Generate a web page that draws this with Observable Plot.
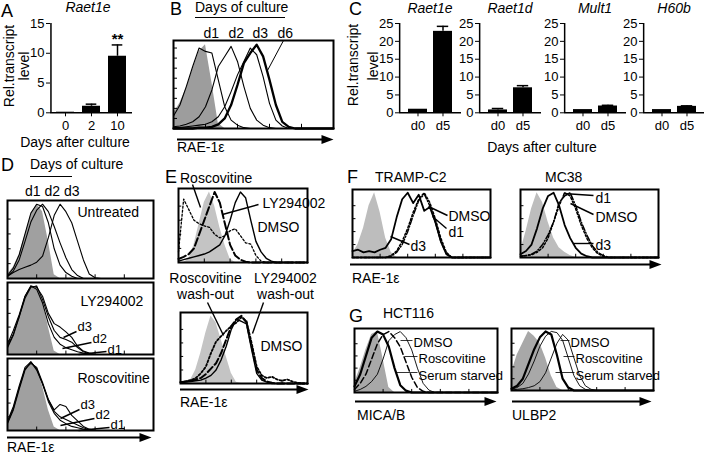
<!DOCTYPE html>
<html><head><meta charset="utf-8">
<script src="https://cdn.jsdelivr.net/npm/d3@7"></script>
<script src="https://cdn.jsdelivr.net/npm/@observablehq/plot@0.6"></script>
<style>
body{margin:0;background:#fff;}
#root{position:relative;width:704px;height:458px;overflow:hidden;font-family:"Liberation Sans",Arial,Helvetica,sans-serif;color:#000;background:#fff;}
.t{position:absolute;white-space:pre;line-height:1;}
.hr{position:absolute;border-top:1.5px solid #000;height:0;}
</style></head><body><div id="root"></div>
<script>
// ---------------- DATA ----------------
// Panel A
const aCats = ["0", "2", "10"];
const aVals = [0.1, 1.1, 9.5];
const aErrs = [0, 0.35, 1.9];
// Panel C
const cCats = ["d0", "d5"];
const cGenes = ["Raet1e", "Raet1d", "Mult1", "H60b"];
const raet1eVals = [1.0, 22.8], raet1eErrs = [0, 1.4];
const raet1dVals = [0.8, 7.0], raet1dErrs = [0.4, 0.6];
const mult1Vals = [0.9, 1.9], mult1Errs = [0, 0.2];
const h60bVals = [0.9, 1.8], h60bErrs = [0, 0.15];
const cTicks = [0, 5, 10, 15, 20, 25];
const aTicks = [0, 5, 10, 15];

// Histogram sample grid (RAE-1 / ligand intensity, % of axis)
const grid = [0,4,8,12,16,20,24,28,32,36,40,44,48,52,56,60,64,68,72,76,80,84,88,92,96,100];
// Panel B (days of culture)
const bGray = [18,30,48,70,92,100,55,6,0];
const bD1 = [15,28,50,74,96,92,90,58,26,10,4,1,0];
const bD2 = [2,3,5,8,14,26,46,74,86,98,80,50,24,10,4,1,0];
const bD3 = [1,1,2,3,4,5,8,14,26,44,64,80,96,88,62,30,10,3,0];
const bD6 = [0,0,0,0,1,1,2,5,12,28,52,78,90,100,86,58,28,8,2,0];
// Panel D
const dGrayU = [5,15,32,58,85,100,90,50,5,0];
const dU1 = [4,14,32,60,88,100,97,75,40,18,8,3,0];
const dU2 = [3,10,25,50,76,92,100,90,70,48,28,12,4,0];
const dU3 = [3,8,12,15,18,22,30,55,85,100,90,75,50,25,6,1,0];
const dGrayL = [8,25,50,80,97,100,80,40,5,0];
const dL1 = [10,28,55,85,100,95,75,45,25,15,10,7,4,2,1,0];
const dL2 = [12,30,55,82,98,100,80,55,35,25,22,18,10,4,1,0];
const dL3 = [15,35,58,85,100,98,85,60,45,40,33,25,12,5,2,0];
const dGrayR = [8,28,55,85,100,92,65,30,5,0];
const dR1 = [10,30,60,88,100,90,68,42,25,15,10,6,4,2,1,0];
const dR2 = [12,32,62,90,98,92,70,45,28,20,16,12,8,4,1,0];
const dR3 = [14,35,65,92,100,88,68,45,30,38,35,22,14,6,2,0];
// Panel E
const eGray1 = [0,0,5,25,55,85,100,80,50,25,5,0];
const eRos = [15,90,75,60,55,52,50,40,35,38,45,48,38,28,26,10,2,0];
const eLY = [5,8,12,20,40,60,80,100,85,55,25,10,4,1,0];
const eDMSO = [2,4,6,8,10,12,15,20,25,38,60,85,100,92,60,30,15,6,2,0];
const eGray2 = [0,0,5,20,45,75,100,90,65,40,15,2,0];
const eRosW = [2,3,5,8,15,25,45,62,70,78,85,90,98,92,60,25,12,8,10,6,4,6,3,1,0];
const eLYW = [2,3,4,6,8,14,22,30,45,65,85,95,100,90,55,20,8,3,1,0];
const eDMSOW = [1,2,3,4,5,8,12,20,35,55,80,95,92,88,50,15,5,2,0];
// Panel F
const fGray1 = [5,20,45,80,100,70,30,8,0];
const fT3 = [10,12,8,10,8,12,15,28,62,90,100,84,97,72,78,55,25,5,0];
const fTDMSO = [0,0,0,0,0,0,0,3,10,25,45,70,90,100,85,60,30,8,0];
const fT1 = [0,0,0,0,0,0,0,2,8,20,40,65,88,98,80,55,25,6,0];
const fGray2 = [10,40,75,100,85,55,30,15,8,3,0];
const fM3 = [5,10,20,45,75,95,100,80,50,30,15,6,2,0];
const fMDMSO = [2,3,4,8,15,30,55,80,100,95,75,50,30,15,6,2,0];
const fM1 = [2,3,5,10,20,35,55,85,95,100,80,55,35,18,8,3,0];
// Panel G
const gGray1 = [15,40,70,95,100,55,8,0];
const gMicaDMSO = [10,30,60,90,100,95,75,40,12,3,0];
const gMicaRos = [5,15,30,55,80,95,100,90,75,50,25,8,2,0];
const gMicaSerum = [2,5,10,18,30,55,85,95,100,90,70,40,15,4,0];
const gGray2 = [30,60,80,100,92,80,55,25,5,0];
const gUlbpDMSO = [3,8,20,45,70,90,100,95,60,20,5,0];
const gUlbpRos = [2,5,12,28,50,75,92,100,98,85,55,25,8,2,0];
const gUlbpSerum = [1,2,3,5,8,15,30,55,80,95,85,55,25,8,2,0];

// ---------------- HELPERS ----------------
const FONT = '"Liberation Sans", Arial, Helvetica, sans-serif';
const root = document.getElementById("root");
const series = vals => grid.map((x, i) => ({x, y: vals[i] ?? 0}));

function place(node, left, top) {
  node.style.position = "absolute";
  node.style.left = left + "px";
  node.style.top = top + "px";
  root.append(node);
}
function txt(s, x, base, size, o = {}) {
  const d = document.createElement("div");
  d.className = "t";
  d.textContent = s;
  d.style.fontSize = size + "px";
  d.style.top = (base - 0.85 * size) + "px";
  d.style.left = x + "px";
  if (o.middle) d.style.transform = "translateX(-50%)";
  if (o.italic) d.style.fontStyle = "italic";
  root.append(d);
}
// one rotated line of text, centred at (cx, cy)
function vline(s, cx, cy, size) {
  const d = document.createElement("div");
  d.className = "t";
  d.textContent = s;
  d.style.fontSize = size + "px";
  d.style.width = "130px";
  d.style.height = size + "px";
  d.style.textAlign = "center";
  d.style.left = (cx - 65) + "px";
  d.style.top = (cy - size / 2) + "px";
  d.style.transform = "rotate(-90deg)";
  d.style.transformOrigin = "50% 50%";
  root.append(d);
}
function hr(x1, x2, y) {
  const d = document.createElement("div");
  d.className = "hr";
  d.style.left = x1 + "px"; d.style.width = (x2 - x1) + "px"; d.style.top = y + "px";
  root.append(d);
}
const baseStyle = {fontFamily: FONT, fontSize: "13px", overflow: "visible", background: "transparent", color: "black"};

function barChart({cats, vals, errs, ticks, yMax, axisX, frameW, pi, po, star}) {
  const y0 = 112, yTop = 22.7, frameH = y0 - yTop;
  const ml = 34, mt = 14, mb = 30, mr = 6;
  const data = cats.map((c, i) => ({c, v: vals[i], e: vals[i] + errs[i]}));
  const withErr = data.filter(d => d.e > d.v);
  const step = frameW / (cats.length - pi + 2 * po);
  const bw = step * (1 - pi);
  const firstOff = po * step + bw / 2;
  const marks = [
    Plot.ruleX(withErr, {x: "c", y1: "v", y2: "e", stroke: "black", strokeWidth: 1.5}),
    Plot.tickY(withErr, {x: "c", y: "e", stroke: "black", strokeWidth: 1.5, insetLeft: bw * 0.2, insetRight: bw * 0.2}),
    Plot.barY(data, {x: "c", y: "v", fill: "black"}),
    Plot.axisY({ticks, tickSize: 4, tickPadding: 2, label: null}),
    Plot.axisX({tickSize: 4, tickPadding: 4, label: null}),
    Plot.ruleY([0], {stroke: "black", strokeWidth: 1.5}),
    Plot.ruleX([cats[0]], {dx: -firstOff, stroke: "black", strokeWidth: 1.5})
  ];
  if (star) marks.push(Plot.text(data.slice(-1), {x: "c", y: "e", text: () => star, dy: -6, fontSize: 15, fontWeight: "bold"}));
  const svg = Plot.plot({
    width: ml + frameW + mr, height: mt + frameH + mb,
    marginLeft: ml, marginRight: mr, marginTop: mt, marginBottom: mb,
    style: baseStyle,
    x: {domain: cats, paddingInner: pi, paddingOuter: po},
    y: {domain: [0, yMax]},
    marks
  });
  place(svg, axisX - ml, yTop - mt);
}

const rightTri = {draw(ctx, size) {
  const r = Math.sqrt(size / Math.PI);
  ctx.moveTo(r * 1.4, 0); ctx.lineTo(-r, -r * 0.9); ctx.lineTo(-r, r * 0.9); ctx.closePath();
}};

function hist(p) {
  const X = px => (px - p.left) / p.w * 100;
  const Y = py => (p.top + p.h - py) / p.h * 105;
  const marks = [Plot.areaY(series(p.gray), {x: "x", y: "y", fill: p.fill, curve: "linear"})];
  for (const c of p.curves)
    marks.push(Plot.lineY(series(c.v), {x: "x", y: "y", stroke: "black", strokeWidth: c.sw, strokeDasharray: c.dash || null, curve: "linear"}));
  marks.push(Plot.frame({stroke: "black", strokeWidth: 2}));
  marks.push(Plot.ruleY(p.lt || [20, 40, 60, 80], {x1: 0, x2: 2.5, stroke: "black"}));
  marks.push(Plot.ruleX([20, 40, 60, 80], {y1: 0, y2: 5, stroke: "black"}));
  if (p.arrow) {
    const a = p.arrow;
    marks.push(Plot.ruleY([Y(a.y)], {x1: X(a.x1), x2: X(a.x2 - 6), stroke: "black", strokeWidth: 2}));
    marks.push(Plot.dot([0], {x: X(a.x2 - 7), y: Y(a.y), symbol: rightTri, r: 5, fill: "black", stroke: "none"}));
  }
  if (p.leaders) marks.push(Plot.link(p.leaders, {x1: d => X(d[0]), y1: d => Y(d[1]), x2: d => X(d[2]), y2: d => Y(d[3]), stroke: "black", strokeWidth: p.lw || 1.4}));
  const labs = p.labels || [];
  const fs = p.fs || 14;
  const groups = [
    [labs.filter(d => !d[3]), "start", fs],
    [labs.filter(d => d[3] === "middle"), "middle", fs],
    [labs.filter(d => d[3] === "small"), "start", 13]
  ];
  for (const [g, anchor, size] of groups)
    if (g.length) marks.push(Plot.text(g, {x: d => X(d[1]), y: d => Y(d[2]), text: d => d[0], textAnchor: anchor, lineAnchor: "middle", fontSize: size, fill: "black"}));
  const svg = Plot.plot({
    width: p.w, height: p.h, margin: 0, style: baseStyle,
    x: {domain: [0, 100], axis: null}, y: {domain: [0, 105], axis: null},
    marks
  });
  place(svg, p.left, p.top);
}

// ---------------- PANEL A ----------------
barChart({cats: aCats, vals: aVals, errs: aErrs, ticks: aTicks, yMax: 15, axisX: 50, frameW: 82, pi: 0.3, po: 0.2, star: "**"});
txt("A", 1, 17, 18);
txt("Raet1e", 88, 12, 14, {middle: true, italic: true});
vline("Rel.transcript", 9, 66, 14);
vline("level", 24, 66, 14);
txt("Days after culture", 75, 147, 14, {middle: true});

// ---------------- PANEL B ----------------
txt("B", 170, 15, 18);
txt("Days of culture", 195, 12, 14);
hr(195, 285, 17);
hist({left: 173, top: 40, w: 160, h: 88, fill: "#9d9d9d", gray: bGray,
  curves: [{v: bD1, sw: 1.1}, {v: bD2, sw: 1.1}, {v: bD3, sw: 1.1}, {v: bD6, sw: 2.3}],
  lt: [12, 24, 36, 48, 60, 72, 84, 96],
  arrow: {x1: 177, x2: 333, y: 139},
  labels: [["d1", 203, 33], ["d2", 228, 33], ["d3", 252, 33], ["d6", 277, 33]],
  leaders: [[283, 40, 267, 70]], lw: 1});
txt("RAE-1ε", 177, 152, 14);

// ---------------- PANEL C ----------------
txt("C", 349, 15, 18);
const cSets = [[raet1eVals, raet1eErrs, 399], [raet1dVals, raet1dErrs, 479], [mult1Vals, mult1Errs, 564], [h60bVals, h60bErrs, 643]];
cSets.forEach(([v, e, ax], i) => {
  barChart({cats: cCats, vals: v, errs: e, ticks: cTicks, yMax: 25, axisX: ax, frameW: 62, pi: 0.25, po: 0.35});
  txt(cGenes[i], ax + 31, 13, 14, {middle: true, italic: true});
});
vline("Rel.transcript", 353, 65, 14);
vline("level", 373, 66, 14);
txt("Days after culture", 542, 152, 14, {middle: true});

// ---------------- PANEL D ----------------
txt("D", 1, 171, 18);
txt("Days of culture", 30, 169, 14);
hr(30, 72, 176);
txt("d1 d2 d3", 25, 196, 14);
hist({left: 7, top: 200, w: 146, h: 78, fill: "#a0a0a0", gray: dGrayU,
  curves: [{v: dU1, sw: 1.1}, {v: dU2, sw: 1.1}, {v: dU3, sw: 1.1}],
  labels: [["Untreated", 77, 212]]});
hist({left: 7, top: 282, w: 146, h: 72, fill: "#a0a0a0", gray: dGrayL,
  curves: [{v: dL1, sw: 1.1}, {v: dL2, sw: 1.1}, {v: dL3, sw: 1.1}],
  labels: [["LY294002", 80, 301], ["d3", 77, 326, "small"], ["d2", 92, 338, "small"], ["d1", 107, 349, "small"]],
  leaders: [[76, 331, 63, 337], [91, 342, 62, 348], [106, 351, 78, 354]]});
hist({left: 7, top: 358, w: 146, h: 72, fill: "#a0a0a0", gray: dGrayR,
  curves: [{v: dR1, sw: 1.1}, {v: dR2, sw: 1.1}, {v: dR3, sw: 1.1}],
  labels: [["Roscovitine", 77, 378], ["d3", 80, 404, "small"], ["d2", 95, 414, "small"], ["d1", 110, 424, "small"]],
  leaders: [[79, 409, 60, 418], [94, 418, 60, 425], [109, 427, 78, 430]],
  arrow: {x1: 7, x2: 151, y: 437}});
txt("RAE-1ε", 7, 452, 14);

// ---------------- PANEL E ----------------
txt("E", 165, 183, 18);
txt("Roscovitine", 180, 183, 14);
hist({left: 178, top: 188, w: 129, h: 74, fill: "#c4c4c4", gray: eGray1,
  curves: [{v: eRos, sw: 1.3, dash: "2,2"}, {v: eLY, sw: 2, dash: "8,3"}, {v: eDMSO, sw: 1.4}],
  labels: [["LY294002", 262, 203], ["DMSO", 257, 227]],
  leaders: [[192, 184, 200, 207], [258, 204, 222, 214]]});
hist({left: 180, top: 312, w: 127, h: 71, fill: "#c4c4c4", gray: eGray2,
  curves: [{v: eRosW, sw: 1.8, dash: "2,2"}, {v: eLYW, sw: 2, dash: "7,3"}, {v: eDMSOW, sw: 1.4}],
  labels: [["Roscovitine", 205, 278.5, "middle"], ["wash-out", 205, 294, "middle"],
           ["LY294002", 285, 278.5, "middle"], ["wash-out", 285, 294, "middle"], ["DMSO", 260, 346]],
  leaders: [[207, 302, 223, 335], [263, 302, 252, 333]],
  arrow: {x1: 180, x2: 308, y: 389}});
txt("RAE-1ε", 180, 407, 14);

// ---------------- PANEL F ----------------
txt("F", 347, 183, 18);
txt("TRAMP-C2", 375, 182, 14);
txt("MC38", 545, 182, 14);
hist({left: 352, top: 189, w: 138, h: 68, fill: "#bdbdbd", gray: fGray1,
  curves: [{v: fTDMSO, sw: 1.5, dash: "2,2"}, {v: fT1, sw: 1.5, dash: "6,2,1,2"}, {v: fT3, sw: 1.8}],
  labels: [["DMSO", 448, 216], ["d1", 448, 232], ["d3", 410, 246]],
  leaders: [[447, 215, 428, 206], [446, 228, 432, 216], [409, 244, 390, 236]],
  arrow: {x1: 350, x2: 661, y: 264}});
hist({left: 520, top: 189, w: 138, h: 68, fill: "#bdbdbd", gray: fGray2,
  curves: [{v: fMDMSO, sw: 1.5, dash: "2,2"}, {v: fM1, sw: 1.5, dash: "6,2,1,2"}, {v: fM3, sw: 1.8}],
  labels: [["d1", 595, 198], ["DMSO", 595, 217], ["d3", 595, 245]],
  leaders: [[593, 195, 563, 193], [593, 214, 570, 203], [593, 243, 573, 243]]});
txt("RAE-1ε", 352, 283, 14);

// ---------------- PANEL G ----------------
txt("G", 349, 322, 18);
txt("HCT116", 383, 318, 14);
hist({left: 354, top: 328, w: 143, h: 64, fill: "#a8a8a8", gray: gGray1,
  curves: [{v: gMicaDMSO, sw: 2.2}, {v: gMicaRos, sw: 1.5, dash: "6,3"}, {v: gMicaSerum, sw: 0.9}],
  labels: [["DMSO", 413, 342], ["Roscovitine", 418, 358], ["Serum starved", 418, 375]],
  leaders: [[400, 340, 412, 340], [404, 356, 417, 356], [396, 372, 417, 372]], lw: 0.8, fs: 13,
  arrow: {x1: 355, x2: 496, y: 401}});
hist({left: 511, top: 328, w: 142, h: 62, fill: "#a8a8a8", gray: gGray2,
  curves: [{v: gUlbpDMSO, sw: 2.2}, {v: gUlbpRos, sw: 0.9}, {v: gUlbpSerum, sw: 0.9}],
  labels: [["DMSO", 570, 342], ["Roscovitine", 575, 358], ["Serum starved", 575, 375]],
  leaders: [[560, 340, 569, 340], [563, 356, 574, 356], [555, 372, 574, 372]], lw: 0.8, fs: 13,
  arrow: {x1: 512, x2: 651, y: 401}});
txt("MICA/B", 357, 420, 14);
txt("ULBP2", 512, 420, 14);
</script></body></html>
